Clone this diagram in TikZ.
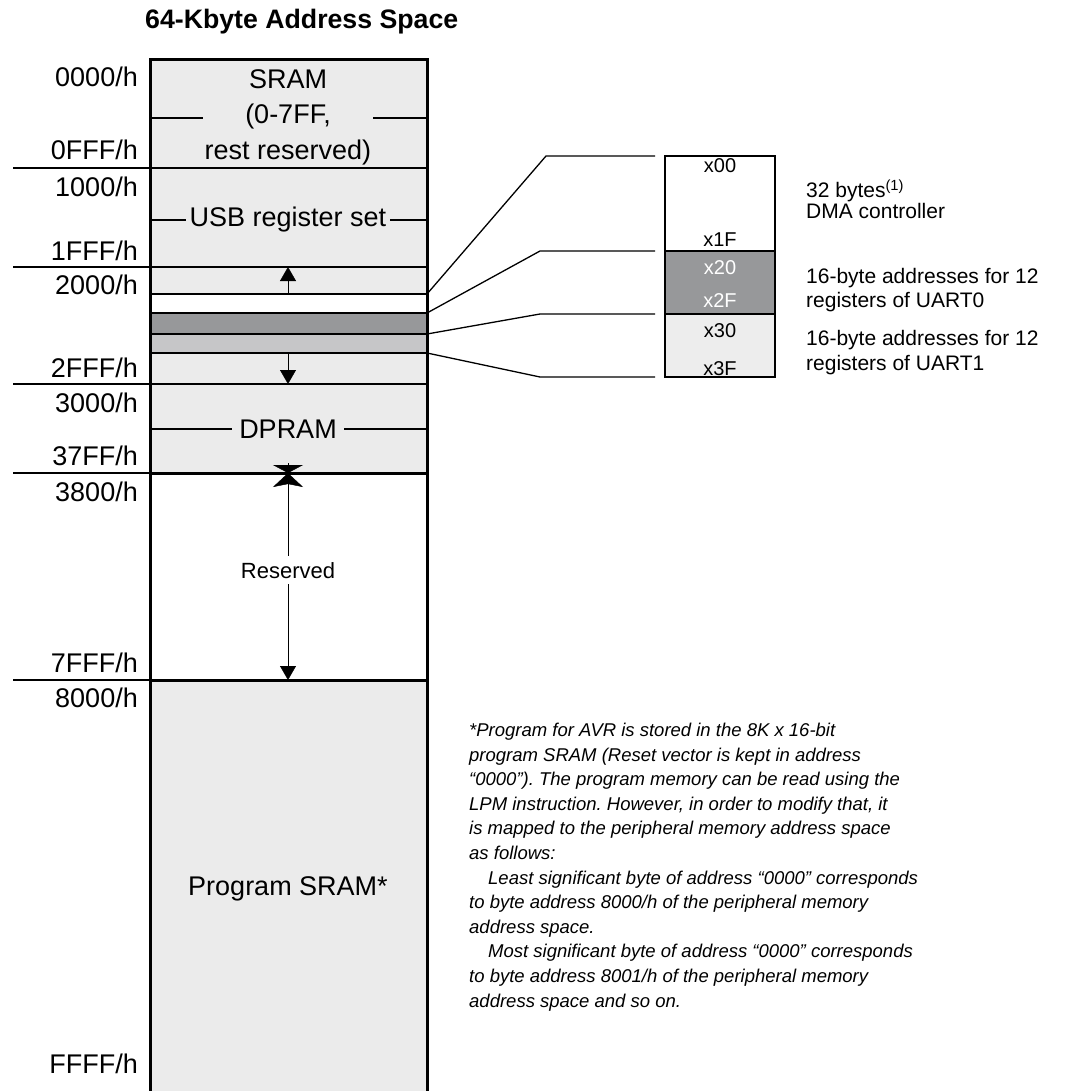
\documentclass[tikz,border=0pt]{standalone}
\usepackage{fontspec}
\setmainfont{Liberation Sans}
\usetikzlibrary{arrows.meta,calc,positioning}
\definecolor{memgray}{HTML}{EBEBEB}
\definecolor{regdark}{HTML}{97989A}
\definecolor{regmid}{HTML}{C6C6C8}
\definecolor{reglight}{HTML}{EDEDED}
\frenchspacing

\begin{document}
\begin{tikzpicture}[x=1pt, y=-1pt, >={Triangle[length=14pt,width=16pt]},
  addr/.style={anchor=base east, inner sep=0pt, font=\fontsize{27}{30}\selectfont},
  area/.style={anchor=base, inner xsep=4pt, inner ysep=0pt, font=\fontsize{27}{30}\selectfont},
  cell/.style={anchor=base, inner sep=0pt, font=\fontsize{20}{22}\selectfont},
  note/.style={anchor=base west, inner sep=0pt, font=\fontsize{21}{22}\selectfont},
  sep/.style={line width=1.5pt},
  wall/.style={line width=3pt},
  link/.style={line width=1.3pt}]
  \useasboundingbox (0,0) rectangle (1070,1091);

  % memory map fills
  \fill[memgray] (150,60) rectangle (427,1100);
  \fill[white] (150,294) rectangle (427,313);
  \fill[regdark] (150,313) rectangle (427,334);
  \fill[regmid] (150,334) rectangle (427,353);
  \fill[white] (150,473) rectangle (427,680);

  \node[anchor=base west, inner sep=0pt, font=\bfseries\fontsize{26.7}{30}\selectfont]
    (title) at (145,29) {64-Kbyte Address Space};

  \foreach \lab/\y in {0000/87, 0FFF/160, 1000/197, 1FFF/260, 2000/294, 2FFF/377,
                       3000/412, 37FF/465, 3800/501, 7FFF/672, 8000/707, FFFF/1073}
    \node[addr] (a\lab) at (138,\y) {\lab/h};

  % region names
  \node[area] (sram) at (288,89) {SRAM};
  \node[area] (sramb) at (288,124) {(0-7FF,};
  \node[area, inner xsep=2pt] (sramc) at (288,160) {rest reserved)};
  \node[area] (usb) at (288,227) {USB register set};
  \node[area, inner xsep=7pt] (dpram) at (288,438) {DPRAM};
  \node[area] (prog) at (288,895) {Program SRAM*};
  \node[anchor=base, inner xsep=0pt, inner ysep=6pt, font=\fontsize{22}{24}\selectfont]
    (resv) at (288,578) {Reserved};

  \coordinate (sramL) at (150,118);  \coordinate (sramR) at (427,118);
  \coordinate (usbL) at (150,220);   \coordinate (usbR) at (427,220);
  \coordinate (dpL) at (150,429);    \coordinate (dpR) at (427,429);
  \draw[sep] (sramL) -- (sramL -| sramc.west) (sramR) -- (sramR -| sramc.east);
  \draw[sep] (usbL) -- (usbL -| usb.west) (usbR) -- (usbR -| usb.east);
  \draw[sep] (dpL) -- (dpL -| dpram.west) (dpR) -- (dpR -| dpram.east);

  % boundaries
  \foreach \y in {168,267,384}
    \draw[sep] (13,\y) -- (427,\y);
  \foreach \y in {473,680} {
    \draw[sep] (13,\y) -- (150,\y);
    \draw[wall] (150,\y) -- (427,\y);
  }
  \foreach \y in {294,313,334,353}
    \draw[sep] (150,\y) -- (427,\y);
  \draw[wall, line join=miter] (150,1100) -- (150,60) -- (427,60) -- (427,1100);

  % arrows
  \coordinate (up0) at (288,294);   \coordinate (up1) at (288,267);
  \coordinate (dn0) at (288,353);   \coordinate (dn1) at (288,384);
  \coordinate (rtop) at (288,473);  \coordinate (rbot) at (288,680);
  \coordinate (cap) at (288,463);
  \draw[->] (up0) -- (up1);
  \draw[->] (dn0) -- (dn1);
  \draw[-{Stealth[length=14pt,width=30pt,inset=3pt]}] (resv.north) -- (rtop);
  \draw[-{Triangle[length=8pt,width=30pt]}] (cap) -- (rtop);
  \draw[->] (resv.south) -- (rbot);

  % register block
  \draw[link, fill=white] (665,156) rectangle (775,251);
  \draw[link, fill=regdark] (665,251) rectangle (775,314);
  \draw[link, fill=reglight] (665,314) rectangle (775,377);
  \node[cell] (x00) at (720,173) {x00};
  \node[cell] (x1F) at (720,247) {x1F};
  \node[cell, text=white] (x20) at (720,274) {x20};
  \node[cell, text=white] (x2F) at (720,307) {x2F};
  \node[cell] (x30) at (720,337) {x30};
  \node[cell] (x3F) at (720,375) {x3F};

  \coordinate (p1) at (427,294);  \coordinate (k1) at (655,156);
  \coordinate (p2) at (427,313);  \coordinate (k2) at (655,251);
  \coordinate (p3) at (427,334);  \coordinate (k3) at (655,314);
  \coordinate (p4) at (427,353);  \coordinate (k4) at (655,377);
  \draw[link] (p1) -- (546,156) -- (k1);
  \draw[link] (p2) -- (540,251) -- (k2);
  \draw[link] (p3) -- (540,314) -- (k3);
  \draw[link] (p4) -- (540,377) -- (k4);

  \node[note] (dma) at (806,198) {32 bytes\textsuperscript{(1)}};
  \node[note] (dmab) at (806,219) {DMA controller};
  \node[note] (u0) at (806,283) {16-byte addresses for 12};
  \node[note] (u0b) at (806,307) {registers of UART0};
  \node[note] (u1) at (806,345) {16-byte addresses for 12};
  \node[note] (u1b) at (806,370) {registers of UART1};

  % footnote (base = last line)
  \node[anchor=base west, inner sep=0pt, align=left,
        font=\fontsize{18.5}{24.6}\selectfont\itshape] (fn) at (469,1007)
    {*Program for AVR is stored in the 8K x 16-bit\\
     program SRAM (Reset vector is kept in address\\
     “0000”). The program memory can be read using the\\
     LPM instruction. However, in order to modify that, it\\
     is mapped to the peripheral memory address space\\
     as follows:\\
     \hspace*{19pt}Least significant byte of address “0000” corresponds\\
     to byte address 8000/h of the peripheral memory\\
     address space.\\
     \hspace*{19pt}Most significant byte of address “0000” corresponds\\
     to byte address 8001/h of the peripheral memory\\
     address space and so on.};
\end{tikzpicture}
\end{document}
